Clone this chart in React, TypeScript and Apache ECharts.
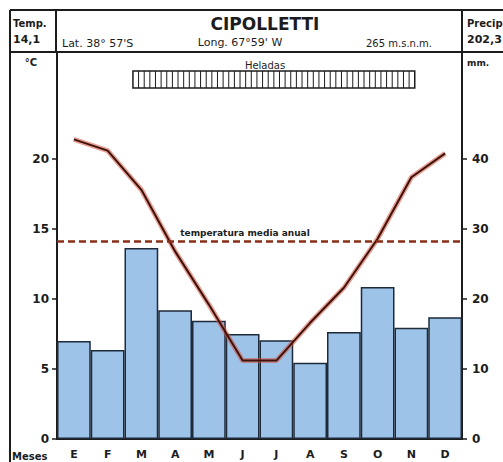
import React, { useEffect, useRef } from "react";
import * as echarts from "echarts";

const months = ["E", "F", "M", "A", "M", "J", "J", "A", "S", "O", "N", "D"];
const precipitation = [14.0, 12.7, 27.3, 18.4, 16.9, 15.0, 14.1, 10.9, 15.3, 21.7, 15.9, 17.4];
const temperature = [21.4, 20.6, 17.8, 13.4, 9.6, 5.6, 5.6, 8.3, 10.8, 14.3, 18.7, 20.4];
const meanTemp = 14.1;
const tempTicks = [0, 5, 10, 15, 20];
const precipTicks = [0, 10, 20, 30, 40];
const frostPeriod = [2.25, 10.6];

const W = 503;
const H = 462;
const G_LEFT = 57;
const G_RIGHT = 41;
const G_TOP = 52;
const G_BOTTOM = 23;
const PX_PER_DEG = 14;
const FONT = "DejaVu Sans";
const INK = "#1c1c1c";

export default function App() {
  const ref = useRef<HTMLDivElement>(null);
  useEffect(() => {
    document.body.style.margin = "0";
    const chart = echarts.init(ref.current!, null, { renderer: "svg" });
    const plotH = H - G_TOP - G_BOTTOM;
    const plotW = W - G_LEFT - G_RIGHT;
    const tMax = plotH / PX_PER_DEG;
    const band = plotW / months.length;
    const fx0 = G_LEFT + frostPeriod[0] * band;
    const fx1 = G_LEFT + frostPeriod[1] * band;
    const fy0 = 71;
    const fy1 = 88;
    const hatch: any[] = [];
    const nH = Math.round((fx1 - fx0) / 5.6);
    for (let i = 1; i < nH; i++) {
      const x = fx0 + ((fx1 - fx0) * i) / nH;
      hatch.push({ type: "line", shape: { x1: x, y1: fy0, x2: x, y2: fy1 }, style: { stroke: INK, lineWidth: 1 } });
    }
    const txt = (text: string, x: number, y: number, size: number, align = "left", weight = "bold") => ({
      type: "text",
      x,
      y,
      style: { text, fill: INK, font: `${weight} ${size}px "${FONT}"`, align, verticalAlign: "middle" },
    });
    const ln = (x1: number, y1: number, x2: number, y2: number, w = 2) => ({
      type: "line",
      shape: { x1, y1, x2, y2 },
      style: { stroke: INK, lineWidth: w },
    });
    chart.setOption({
      animation: false,
      backgroundColor: "#ffffff",
      grid: { left: G_LEFT, right: G_RIGHT, top: G_TOP, bottom: G_BOTTOM },
      xAxis: {
        type: "category",
        data: months,
        axisLine: { lineStyle: { color: INK, width: 2 } },
        axisTick: { show: false },
        axisLabel: { color: INK, fontFamily: FONT, fontWeight: "bold", fontSize: 11, margin: 10 },
      },
      yAxis: [
        {
          type: "value",
          min: 0,
          max: tMax,
          splitLine: { show: false },
          axisLine: { show: true, lineStyle: { color: INK, width: 2 } },
          axisTick: { show: true, length: 5, customValues: tempTicks, lineStyle: { color: INK, width: 1.5 } },
          axisLabel: { customValues: tempTicks, color: INK, fontFamily: FONT, fontWeight: "bold", fontSize: 12, margin: 8 },
        },
        {
          type: "value",
          min: 0,
          max: tMax * 2,
          position: "right",
          splitLine: { show: false },
          axisLine: { show: true, lineStyle: { color: INK, width: 2 } },
          axisTick: { show: true, length: 5, customValues: precipTicks, lineStyle: { color: INK, width: 1.5 } },
          axisLabel: { customValues: precipTicks, color: INK, fontFamily: FONT, fontWeight: "bold", fontSize: 12, margin: 10 },
        },
      ],
      series: [
        {
          type: "bar",
          yAxisIndex: 1,
          data: precipitation,
          barCategoryGap: "0%",
          itemStyle: { color: "#9dc3e8", borderColor: "#1d2a3a", borderWidth: 1.5 },
        },
        {
          type: "line",
          yAxisIndex: 0,
          data: temperature,
          symbol: "none",
          lineStyle: { color: "rgba(214,80,60,0.55)", width: 5 },
          markLine: {
            symbol: "none",
            silent: true,
            label: { show: false },
            lineStyle: { color: "#8a2e18", width: 2.5, type: [7, 4] },
            data: [{ yAxis: meanTemp }],
          },
        },
        {
          type: "line",
          yAxisIndex: 0,
          data: temperature,
          symbol: "none",
          lineStyle: { color: "#3d120a", width: 2 },
        },
      ],
      graphic: [
        ln(10, 10, W, 10),
        ln(10, 10, 10, H),
        ln(10, 52, W, 52),
        ln(56, 10, 56, 52),
        ln(462, 10, 462, 52),
        txt("Temp.", 13, 23, 10),
        txt("14,1", 13, 39, 11),
        txt("CIPOLLETTI", 265, 24, 17, "center"),
        txt("Lat. 38° 57'S", 62, 43, 11, "left", "normal"),
        txt("Long. 67°59' W", 240, 42, 11, "center", "normal"),
        txt("265 m.s.n.m.", 366, 43, 10, "left", "normal"),
        txt("Precip", 467, 23, 10),
        txt("202,3", 467, 39, 11),
        txt("°C", 31, 62, 10, "center"),
        txt("mm.", 467, 63, 9),
        txt("Heladas", 265, 65, 10, "center", "normal"),
        { type: "rect", shape: { x: fx0, y: fy0, width: fx1 - fx0, height: fy1 - fy0 }, style: { fill: "#fff", stroke: INK, lineWidth: 1.5 } },
        ...hatch,
        txt("temperatura media anual", 245, 233, 9, "center"),
        txt("Meses", 12, 456, 10),
      ],
    });
    return () => chart.dispose();
  }, []);
  return <div ref={ref} style={{ width: W, height: H }} />;
}
